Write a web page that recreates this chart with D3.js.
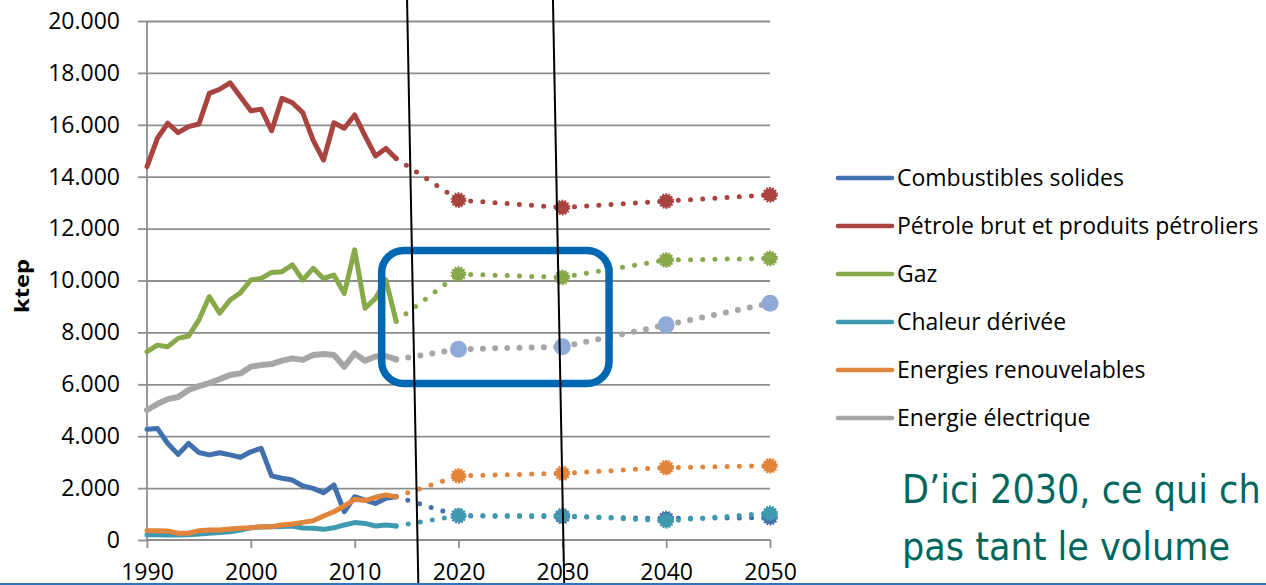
<!DOCTYPE html>
<html>
<head>
<meta charset="utf-8">
<script src="https://cdn.jsdelivr.net/npm/d3@7"></script>
<style>
  html, body { margin: 0; padding: 0; background: #fff; overflow: hidden; }
  svg { display: block; }
</style>
</head>
<body>
<svg id="chart" width="1266" height="585"></svg>
<script>
// ---------- DATA ----------
const years = [1990,1991,1992,1993,1994,1995,1996,1997,1998,1999,2000,2001,2002,2003,2004,2005,2006,2007,2008,2009,2010,2011,2012,2013,2014];
const projYears = [2020, 2030, 2040, 2050];

const seriesNames = ["Combustibles solides", "Pétrole brut et produits pétroliers", "Gaz", "Chaleur dérivée", "Energies renouvelables", "Energie électrique"];

const solid  = [4270,4300,3720,3300,3720,3370,3280,3360,3280,3190,3400,3530,2470,2380,2310,2080,1990,1820,2120,1090,1670,1540,1410,1610,1670];
const petrol = [14390,15480,16060,15700,15930,16030,17210,17370,17620,17080,16540,16600,15770,17020,16850,16470,15410,14640,16080,15870,16380,15570,14800,15090,14700];
const gas    = [7260,7510,7450,7770,7860,8480,9380,8740,9250,9530,10020,10080,10310,10340,10600,10020,10470,10080,10210,9500,11180,8930,9310,10020,8430];
const heat   = [200,200,190,190,200,230,260,290,320,380,470,500,510,520,540,460,450,410,470,580,670,640,540,580,540];
const renew  = [360,355,350,260,260,360,385,385,420,450,475,515,515,580,620,680,745,925,1090,1310,1570,1520,1645,1735,1670];
const elec   = [5010,5240,5430,5510,5780,5930,6050,6200,6360,6420,6680,6740,6780,6910,7000,6940,7130,7170,7130,6680,7190,6910,7070,7090,6960];

const solidProj  = [930, 900, 830, 860];
const petrolProj = [13100, 12810, 13060, 13300];
const gasProj    = [10250, 10120, 10790, 10850];
const heatProj   = [940, 940, 740, 1030];
const renewProj  = [2470, 2570, 2790, 2860];
const elecProj   = [7350, 7450, 8290, 9120];

const yTicks = [0, 2000, 4000, 6000, 8000, 10000, 12000, 14000, 16000, 18000, 20000];
const xTicks = [1990, 2000, 2010, 2020, 2030, 2040, 2050];

const yLabel = "ktep";
const noteLines = ["D’ici 2030, ce qui ch", "pas tant le volume"];

// annotation: slanted black lines crossing the x axis at these years, highlight box region
const markerYears = [2016.05, 2030.1];
const boxYears = [2012.6, 2034.5];
const boxValues = [6030, 11160];

// ---------- STYLE ----------
const colors = ["#4170ad", "#a8433f", "#87a94a", "#3f9ab0", "#e2843a", "#a6a6a6"];
const elecMarkerColor = "#8faad7";

const svg = d3.select("#chart");
const x = d3.scaleLinear().domain([1990, 2050]).range([147, 770]);
const y = d3.scaleLinear().domain([0, 20000]).range([540, 21]);

const loc = d3.formatLocale({decimal: ",", thousands: ".", grouping: [3], currency: ["", "€"]});
const fmt = loc.format(",");

// gridlines
const grid = svg.append("g").attr("transform", `translate(${x(1990)},0)`)
  .call(d3.axisLeft(y).tickValues(yTicks.filter(d => d > 0)).tickSize(-(x(2050) - x(1990))).tickFormat(""));
grid.select(".domain").remove();
grid.selectAll("line").attr("stroke", "#8e8e8e").attr("stroke-width", 1.8);

// y axis
const yAxis = svg.append("g").attr("transform", `translate(${x(1990)},0)`)
  .call(d3.axisLeft(y).tickValues(yTicks).tickSize(9).tickPadding(18).tickFormat(fmt));
yAxis.select(".domain").attr("stroke", "#8e8e8e").attr("stroke-width", 1.8).attr("d", `M0,${y(20000)}V${y(0)}`);
yAxis.selectAll(".tick line").attr("stroke", "#8e8e8e").attr("stroke-width", 1.8);
yAxis.selectAll("text").attr("font-family", "Open Sans").attr("font-size", 23).attr("fill", "#000");

// x axis
const xAxis = svg.append("g").attr("transform", `translate(0,${y(0)})`)
  .call(d3.axisBottom(x).tickValues(xTicks).tickSize(8).tickPadding(16).tickFormat(d3.format("d")));
xAxis.select(".domain").attr("stroke", "#8e8e8e").attr("stroke-width", 1.8).attr("d", `M${x(1990)},0H${x(2050)}`);
xAxis.selectAll(".tick line").attr("stroke", "#8e8e8e").attr("stroke-width", 1.8);
xAxis.selectAll("text").attr("font-family", "Open Sans").attr("font-size", 23).attr("fill", "#000");

// y label
svg.append("text")
  .attr("transform", `translate(29,286) rotate(-90)`)
  .attr("text-anchor", "middle")
  .attr("font-family", "Open Sans").attr("font-weight", "bold").attr("font-size", 20)
  .attr("textLength", 54).attr("lengthAdjust", "spacingAndGlyphs")
  .text(yLabel);

const hist = [solid, petrol, gas, heat, renew, elec];
const proj = [solidProj, petrolProj, gasProj, heatProj, renewProj, elecProj];

const line = d3.line().x(d => x(d[0])).y(d => y(d[1]));

// historic lines
hist.forEach((vals, i) => {
  svg.append("path")
    .attr("d", line(years.map((yr, j) => [yr, vals[j]])))
    .attr("fill", "none")
    .attr("stroke", colors[i])
    .attr("stroke-width", i === 5 ? 6 : 5)
    .attr("stroke-linejoin", "round")
    .attr("stroke-linecap", "round");
});

// projections
proj.forEach((vals, i) => {
  const last = [years[years.length - 1], hist[i][hist[i].length - 1]];
  const pts = [last].concat(projYears.map((yr, j) => [yr, vals[j]]));
  const g = svg.append("g");
  for (let k = 0; k < pts.length - 1; k++) {
    g.append("path")
      .attr("d", line([pts[k], pts[k + 1]]))
      .attr("fill", "none")
      .attr("stroke", colors[i])
      .attr("stroke-width", i === 5 ? 6 : 5)
      .attr("stroke-linecap", "round")
      .attr("stroke-dasharray", "0 12.2")
      .attr("stroke-dashoffset", -12.2);
  }
  projYears.forEach((yr, j) => {
    if (i === 5) {
      g.append("circle").attr("cx", x(yr)).attr("cy", y(vals[j])).attr("r", 8.5)
        .attr("fill", elecMarkerColor);
    } else {
      g.append("circle").attr("cx", x(yr)).attr("cy", y(vals[j])).attr("r", 6.6)
        .attr("fill", colors[i])
        .attr("stroke", colors[i]).attr("stroke-width", 2.6)
        .attr("stroke-dasharray", "1.8 1.2");
    }
  });
});

// blue highlight box
svg.append("rect")
  .attr("x", x(boxYears[0])).attr("y", y(boxValues[1]))
  .attr("width", x(boxYears[1]) - x(boxYears[0]))
  .attr("height", y(boxValues[0]) - y(boxValues[1]))
  .attr("rx", 22).attr("ry", 22)
  .attr("fill", "none").attr("stroke", "#0068b3").attr("stroke-width", 7.5);

// black slanted lines
const slope = 0.0193;
markerYears.forEach(yr => {
  const xc = x(yr);
  svg.append("line")
    .attr("x1", xc + (0 - y(0)) * slope).attr("y1", 0)
    .attr("x2", xc + (585 - y(0)) * slope).attr("y2", 585)
    .attr("stroke", "#000").attr("stroke-width", 2);
});

// legend
const lg = svg.append("g");
seriesNames.forEach((name, i) => {
  const ly = 178 + i * 48;
  lg.append("line").attr("x1", 838).attr("x2", 892).attr("y1", ly).attr("y2", ly)
    .attr("stroke", colors[i]).attr("stroke-width", 4.5).attr("stroke-linecap", "round");
  lg.append("text").attr("x", 897).attr("y", ly + 8)
    .attr("font-family", "Open Sans").attr("font-size", 23).attr("fill", "#000")
    .text(name);
});

// note text
noteLines.forEach((t, i) => {
  svg.append("text").attr("x", 902).attr("y", 503 + i * 57)
    .attr("font-family", "'DejaVu Sans Condensed', 'DejaVu Sans'")
    .attr("font-stretch", "condensed")
    .attr("font-size", 39).attr("fill", "#00675f")
    .text(t);
});

// bottom rule
svg.append("line").attr("x1", 0).attr("x2", 1266).attr("y1", 584).attr("y2", 584)
  .attr("stroke", "#2e77c0").attr("stroke-width", 2);
</script>
</body>
</html>
